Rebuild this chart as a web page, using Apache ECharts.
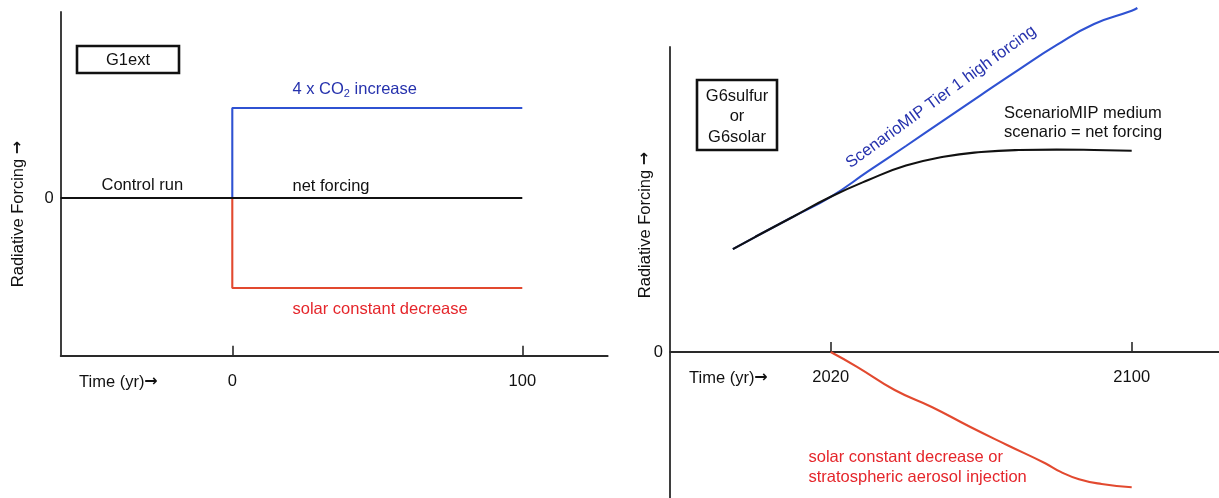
<!DOCTYPE html>
<html>
<head>
<meta charset="utf-8">
<script src="https://cdn.jsdelivr.net/npm/echarts@6/dist/echarts.min.js"></script>
<style>
  html, body { margin: 0; padding: 0; background: #fff; }
  #chart { width: 1219px; height: 498px; }
</style>
</head>
<body>
<div id="chart"></div>
<script>
// ---- G1ext experiment (left panel): abrupt forcing steps ----
const g1TickYears = [0, 100];
const controlYears = [-59.2, 0, 100];
const controlForcing = [0, 0, 0];
const co2Years = [0, 0, 100];
const co2Forcing = [0, 4, 4];
const solarStepYears = [0, 0, 100];
const solarStepForcing = [0, -4, -4];

// ---- G6sulfur / G6solar experiment (right panel): scenario pathways ----
const g6TickYears = [2020, 2100];
const mediumYears = [1994, 2000, 2010, 2020, 2030, 2040, 2050, 2060, 2070, 2080, 2090, 2100];
const mediumForcing = [2.57, 2.88, 3.38, 3.88, 4.3, 4.66, 4.88, 5.0, 5.05, 5.06, 5.05, 5.03];
const highYears = [1994, 2000, 2010, 2020, 2030, 2040, 2050, 2060, 2070, 2080, 2090, 2100, 2101.5];
const highForcing = [2.57, 2.88, 3.38, 3.88, 4.52, 5.15, 5.79, 6.43, 7.06, 7.67, 8.2, 8.53, 8.6];
const geoYears = [2020, 2027, 2037, 2047, 2057, 2067, 2077, 2081, 2086, 2092, 2100];
const geoForcing = [0, -0.37, -0.95, -1.38, -1.87, -2.33, -2.78, -2.99, -3.18, -3.3, -3.38];

const zeroTick = [0];

const FONT = '"Liberation Sans", Arial, Helvetica, sans-serif';
const ARROW_FONT = '"DejaVu Sans", sans-serif';
const FS = 16.5;
const INK = '#111';
const AXIS = '#2a2a2a';
const BLUE_LINE = '#2f52d2';
const BLUE_TEXT = '#2632ad';
const RED_LINE = '#e2492f';
const RED_TEXT = '#e5262b';

const pairs = (xs, ys) => xs.map((x, i) => [x, ys[i]]);

function tickedXAxis(gridIndex, min, max, ticks, offset) {
  return {
    type: 'value', gridIndex, min, max, offset,
    splitLine: { show: false },
    axisLine: { show: true, onZero: false, lineStyle: { color: AXIS, width: 1.8 } },
    axisTick: { show: true, inside: true, length: 10, customValues: ticks,
                lineStyle: { color: AXIS, width: 1.6 } },
    axisLabel: { show: true, customValues: ticks, margin: 17,
                 formatter: (v) => String(v),
                 fontFamily: FONT, fontSize: FS, color: INK }
  };
}

function zeroYAxis(gridIndex, min, max) {
  return {
    type: 'value', gridIndex, min, max,
    splitLine: { show: false },
    axisLine: { show: true, onZero: false, lineStyle: { color: AXIS, width: 1.8 } },
    axisTick: { show: false },
    axisLabel: { show: true, customValues: zeroTick, margin: 7,
                 formatter: (v) => String(v),
                 fontFamily: FONT, fontSize: FS, color: INK }
  };
}

function line(name, xi, data, color, extra) {
  return Object.assign({
    name, type: 'line', xAxisIndex: xi, yAxisIndex: xi,
    data, symbol: 'none', silent: true, animation: false,
    lineStyle: { color, width: 2.1 }
  }, extra);
}

// plain text annotation; "{a|→}" tokens use a font with a full-size arrow
function label(x, y, text, fill, extra, el) {
  return Object.assign({
    type: 'text', silent: true,
    style: Object.assign({
      x, y, text, fill, font: FS + 'px ' + FONT,
      textAlign: 'left', textVerticalAlign: 'middle',
      rich: { a: { fontFamily: ARROW_FONT, fontSize: 16, fontWeight: 'bold', fill } }
    }, extra)
  }, el);
}

const option = {
  backgroundColor: '#fff',
  animation: false,
  grid: [
    { left: 60.7, top: 12, width: 547, height: 343.7, outerBoundsMode: 'none' },
    { left: 670, top: 47, width: 549, height: 451, outerBoundsMode: 'none' }
  ],
  xAxis: [
    tickedXAxis(0, -59.17, 129.45, g1TickYears, 0),
    tickedXAxis(1, 1977.29, 2123.2, g6TickYears, -146)
  ],
  yAxis: [
    zeroYAxis(0, -7.009, 8.267),
    zeroYAxis(1, -3.65, 7.625)
  ],
  series: [
    line('4 x CO2 increase', 0, pairs(co2Years, co2Forcing), BLUE_LINE),
    line('solar constant decrease', 0, pairs(solarStepYears, solarStepForcing), RED_LINE),
    line('net forcing', 0, pairs(controlYears, controlForcing), '#111'),
    line('ScenarioMIP Tier 1 high forcing', 1, pairs(highYears, highForcing), BLUE_LINE,
         { smooth: 0.5, clip: false }),
    line('ScenarioMIP medium scenario', 1, pairs(mediumYears, mediumForcing), '#111',
         { smooth: 0.5 }),
    line('solar constant decrease or stratospheric aerosol injection', 1,
         pairs(geoYears, geoForcing), RED_LINE, { smooth: 0.5, clip: false })
  ],
  graphic: [
    // left panel annotations
    { type: 'rect', silent: true, shape: { x: 77, y: 46, width: 102, height: 27 },
      style: { fill: '#fff', stroke: '#111', lineWidth: 2.6 } },
    label(128, 60, 'G1ext', INK, { textAlign: 'center' }),
    {
      type: 'text', silent: true,
      style: {
        x: 292.5, y: 89, text: '4 x CO{sub|2} increase', fill: BLUE_TEXT,
        font: FS + 'px ' + FONT, textAlign: 'left', textVerticalAlign: 'middle',
        lineHeight: 20,
        rich: { sub: { fontSize: 11, fontFamily: FONT, fill: BLUE_TEXT,
                       verticalAlign: 'bottom', lineHeight: 11 } }
      }
    },
    label(101.5, 185, 'Control run', INK),
    label(292.5, 186, 'net forcing', INK),
    label(292.5, 309, 'solar constant decrease', RED_TEXT),
    label(79, 382, 'Time (yr){a|\u2192}', INK),
    label(0, 0, 'Radiative Forcing {a|\u2192}', INK, { textAlign: 'center' },
          { x: 18, y: 214, rotation: Math.PI / 2 }),
    // right panel annotations
    { type: 'rect', silent: true, shape: { x: 697, y: 80, width: 80, height: 70 },
      style: { fill: '#fff', stroke: '#111', lineWidth: 2.6 } },
    label(737, 116.5, 'G6sulfur\nor\nG6solar', INK,
          { textAlign: 'center', lineHeight: 20.5 }),
    label(1004, 113, 'ScenarioMIP medium', INK),
    label(1004, 132.5, 'scenario = net forcing', INK),
    label(808.5, 457.5, 'solar constant decrease or', RED_TEXT),
    label(808.5, 477, 'stratospheric aerosol injection', RED_TEXT),
    label(689, 378, 'Time (yr){a|\u2192}', INK),
    label(0, 0, 'Radiative Forcing {a|\u2192}', INK, { textAlign: 'center' },
          { x: 645, y: 225, rotation: Math.PI / 2 }),
    label(0, 0, 'ScenarioMIP Tier 1 high forcing', BLUE_TEXT, { textAlign: 'center' },
          { x: 941, y: 97, rotation: 36 * Math.PI / 180 })
  ]
};

const chart = echarts.init(document.getElementById('chart'), null, { renderer: 'canvas' });
chart.setOption(option);
</script>
</body>
</html>
